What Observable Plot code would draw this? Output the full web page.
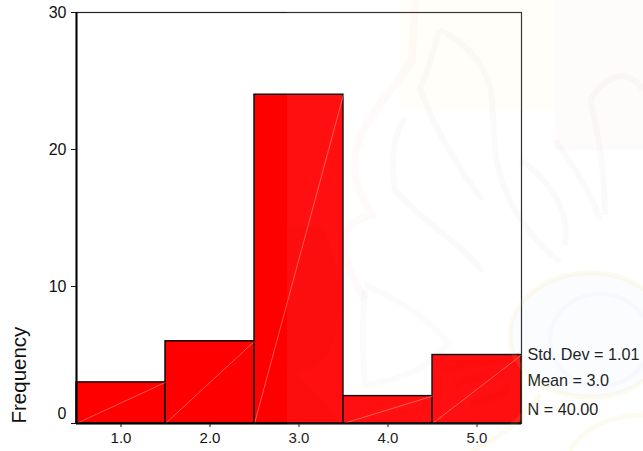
<!DOCTYPE html>
<html>
<head>
<meta charset="utf-8">
<script src="https://cdn.jsdelivr.net/npm/d3@7"></script>
<script src="https://cdn.jsdelivr.net/npm/@observablehq/plot@0.6"></script>
<style>
html,body{margin:0;padding:0;background:#fff}
#wrap{position:relative;width:643px;height:451px;overflow:hidden}
#wrap svg{display:block}
#wm{position:absolute;left:0;top:0;pointer-events:none}
</style>
</head>
<body>
<div id="wrap">
<div id="chart"></div>
<svg id="wm" width="643" height="451" viewBox="0 0 643 451" aria-hidden="true">
  <rect x="287" y="0" width="356" height="451" fill="#fff" opacity="0.06"/>
  <path d="M415 0 L412 60 C380 110 350 130 355 175 C360 200 368 205 372 215 C345 220 330 240 365 300" fill="none" stroke="#d82020" stroke-opacity="0.025" stroke-width="8"/>
  <path d="M400 0H555V110H400Z" fill="#f7e870" fill-opacity="0.05"/>
  <path d="M555 0H643V150H555Z" fill="#e04040" fill-opacity="0.025"/>
  <path d="M440 30C470 45 490 70 492 100L495 150C500 190 520 230 560 262M440 30C432 50 430 70 420 88C432 125 460 170 482 200" fill="none" stroke="#806060" stroke-opacity="0.03" stroke-width="6"/>
  <path d="M405 118C390 140 392 170 395 190C420 220 470 250 482 272" fill="none" stroke="#806060" stroke-opacity="0.03" stroke-width="6"/>
  <path d="M520 160C550 180 570 210 565 245M555 140C575 170 590 190 600 220M590 100C610 70 630 70 643 90M590 100C600 140 605 180 605 215" fill="none" stroke="#806060" stroke-opacity="0.03" stroke-width="6"/>
  <path d="M365 285C400 300 430 320 450 345M365 385C400 380 430 370 450 340M365 290C362 320 362 350 365 385" fill="none" stroke="#806060" stroke-opacity="0.025" stroke-width="6"/>
  <path d="M320 225C345 260 340 330 330 350C325 365 300 375 295 372C315 395 335 410 340 423H287V225Z" fill="#e00000" fill-opacity="0.06"/>
  <path d="M455 385C475 375 490 378 505 372M470 405C490 395 510 398 505 385M440 370C470 360 500 365 520 355" fill="none" stroke="#e00000" stroke-opacity="0.07" stroke-width="7"/>
  <ellipse cx="590" cy="335" rx="80" ry="62" fill="#6a8ad0" fill-opacity="0.025" stroke="#eedc70" stroke-opacity="0.1" stroke-width="5"/>
  <ellipse cx="600" cy="340" rx="50" ry="46" fill="none" stroke="#6a8ad0" stroke-opacity="0.03" stroke-width="4"/>
  <path d="M570 451C580 430 610 415 643 415M470 451C500 440 520 420 540 395" fill="none" stroke="#eedc70" stroke-opacity="0.1" stroke-width="5"/>
</svg>
</div>
<script>
const binStart = [0.5, 1.5, 2.5, 3.5, 4.5];
const binEnd = [1.5, 2.5, 3.5, 4.5, 5.5];
const frequency = [3, 6, 24, 2, 5];
const xTicks = [1, 2, 3, 4, 5];
const yTicks = [0, 10, 20, 30];
const statLabels = ["Std. Dev = 1.01", "Mean = 3.0", "N = 40.00"];
const statY = [5.0, 3.1, 1.0];
const yLabel = "Frequency";

const bins = frequency.map((v, i) => ({x1: binStart[i], x2: binEnd[i], v}));
const stats = statLabels.map((t, i) => ({t, y: statY[i]}));

const chart = Plot.plot({
  width: 643,
  height: 451,
  marginLeft: 76,
  marginRight: 122,
  marginTop: 12,
  marginBottom: 28,
  style: {fontFamily: "'Liberation Sans', Arial, sans-serif", background: "transparent", color: "#111"},
  x: {domain: [0.5, 5.5]},
  y: {domain: [0, 30]},
  marks: [
    Plot.rectY(bins, {x1: "x1", x2: "x2", y1: 0, y2: "v", fill: "#ff0000", stroke: "#000", strokeWidth: 1.4}),
    Plot.link(bins, {x1: "x1", x2: "x2", y1: () => 0, y2: "v", stroke: "#ffb0a0", strokeWidth: 0.5}),
    Plot.frame({stroke: "#222", strokeWidth: 1.2}),
    Plot.ruleX([0.5], {stroke: "#000", strokeWidth: 2}),
    Plot.ruleY([0], {stroke: "#000", strokeWidth: 2}),
    Plot.axisX({ticks: xTicks, tickFormat: d3.format(".1f"), tickSize: 4, tickPadding: 5, fontSize: 15, label: null}),
    Plot.axisY({ticks: yTicks, tickFormat: d => d === 0 ? "" : d, tickSize: 5, tickPadding: 5, fontSize: 16, label: null}),
    Plot.text(["0"], {x: () => 0.5, y: () => 0, text: d => d, textAnchor: "end", dx: -10, dy: -10, fontSize: 16}),
    Plot.text(stats, {x: () => 5.5, y: "y", text: "t", textAnchor: "start", dx: 6, fontSize: 16.2, clip: false}),
    Plot.text([yLabel], {frameAnchor: "bottom-left", rotate: -90, textAnchor: "start", dx: -51, fontSize: 20.5})
  ]
});
document.getElementById("chart").append(chart);
</script>
</body>
</html>
